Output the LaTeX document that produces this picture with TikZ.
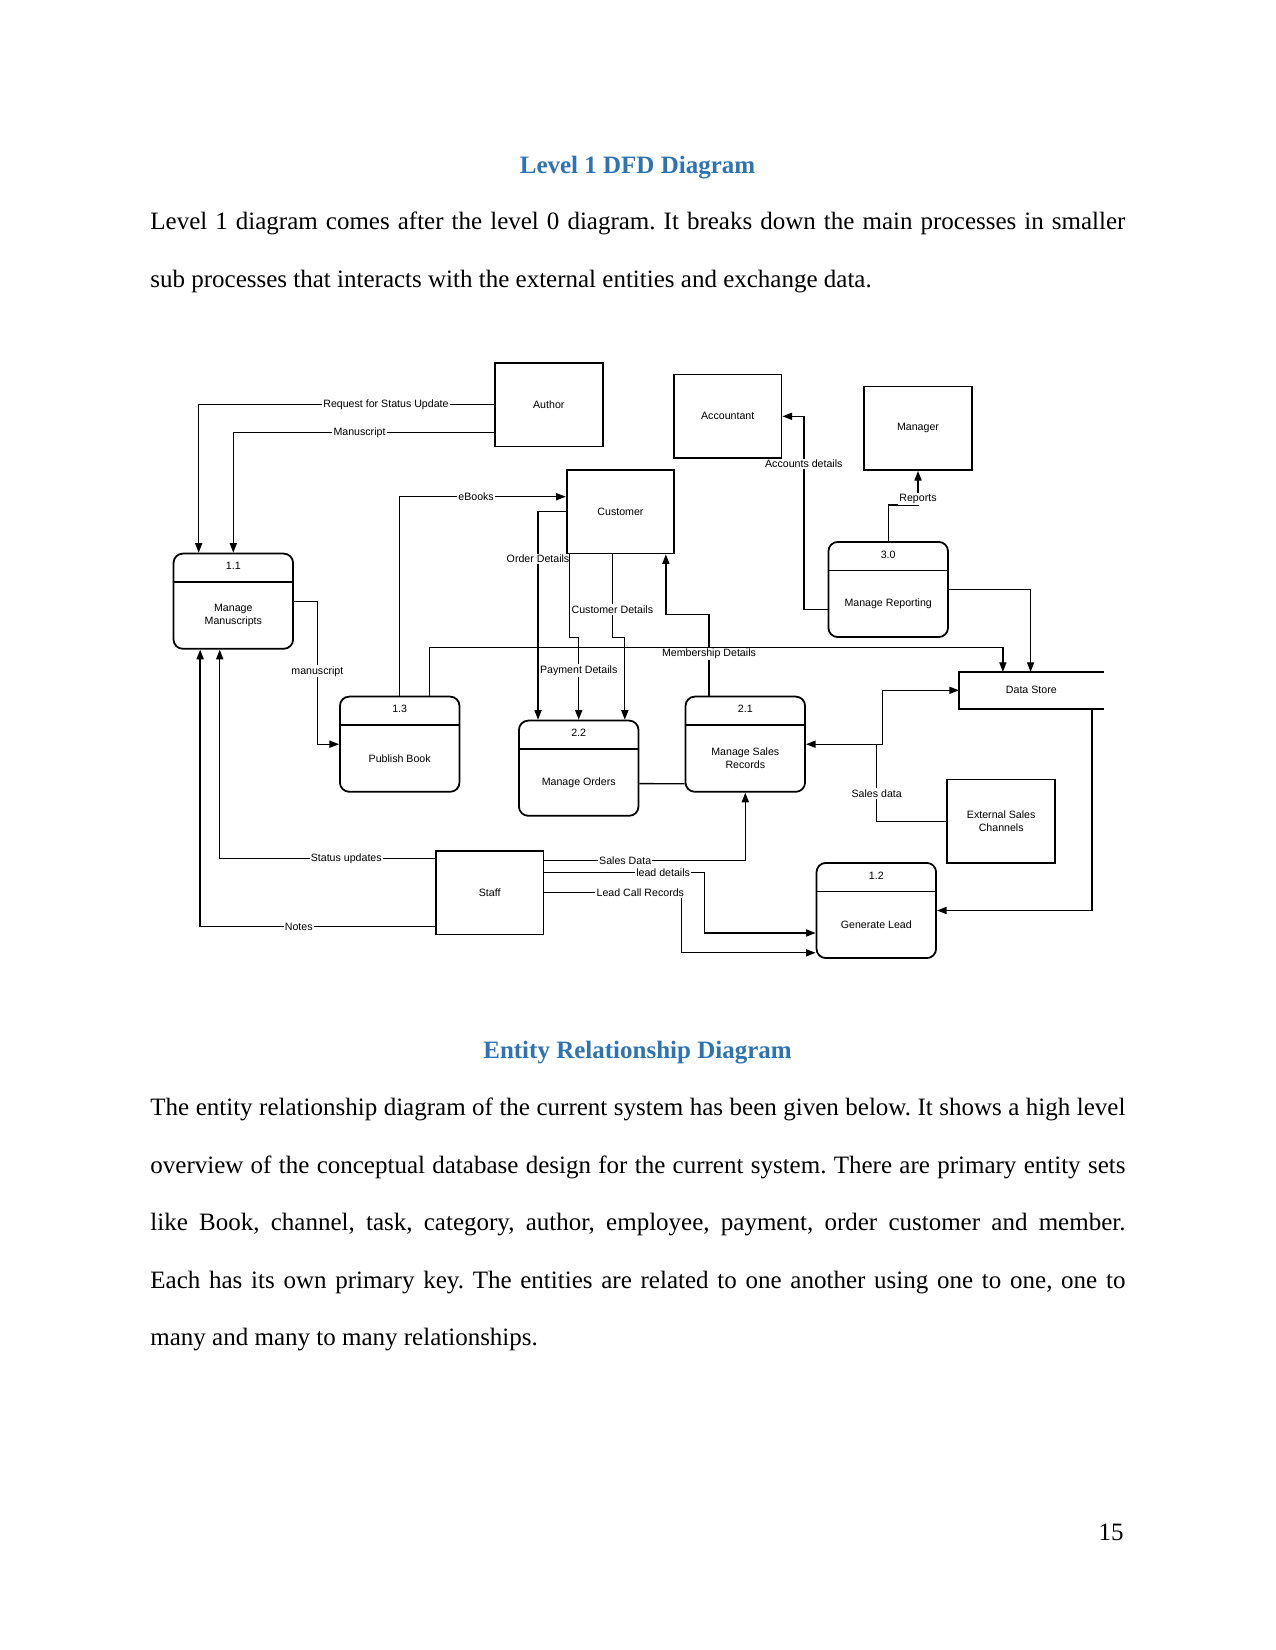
\documentclass[tikz,border=0pt]{standalone}
\usepackage{fontspec}
\setmainfont{Liberation Serif}
\newfontfamily\dfdfont{Liberation Sans}
\usetikzlibrary{arrows.meta, calc}
\definecolor{headblue}{RGB}{46,116,181}
\frenchspacing

\begin{document}
\begin{tikzpicture}[
    x=0.48pt, y=-0.48pt,
    entity/.style={
        draw=black, line width=0.85pt, minimum width=51.7pt, minimum height=40.1pt,
        font=\dfdfont\fontsize{5.1}{6.2}\selectfont, align=center, inner sep=1pt
    },
    proc/.style={
        draw=black, line width=0.85pt, rounded corners=4.5pt, minimum width=57.4pt,
        minimum height=45.7pt, inner sep=0pt,
        path picture={\draw[line width=0.85pt]
            ([yshift=-13.7pt]path picture bounding box.north west) --
            ([yshift=-13.7pt]path picture bounding box.north east);}
    },
    store/.style={
        minimum width=69.1pt, minimum height=17.3pt, inner sep=0pt,
        font=\dfdfont\fontsize{5.1}{6.2}\selectfont
    },
    num/.style={font=\dfdfont\fontsize{5.1}{6.2}\selectfont, inner sep=0pt},
    txt/.style={font=\dfdfont\fontsize{5.1}{6.2}\selectfont, align=center, inner sep=0pt},
    arrow/.style={
        -{Triangle[length=4.6pt, width=3.4pt]}, line width=0.65pt, black
    },
    biarrow/.style={
        {Triangle[length=4.6pt, width=3.4pt]}-{Triangle[length=4.6pt, width=3.4pt]},
        line width=0.65pt, black
    },
    flow/.style={line width=0.65pt, black},
    lbl/.style={font=\dfdfont\fontsize{5.1}{6.2}\selectfont, fill=white, inner sep=0.6pt},
    heading/.style={font=\bfseries\fontsize{12}{14}\selectfont, text=headblue, inner sep=0pt},
    body/.style={font=\fontsize{12}{14}\selectfont, inner sep=0pt}
]

\fill[white] (0,0) rectangle (1275,1650);
\useasboundingbox (0,0) rectangle (1275,1650);

% page text
\node[heading, anchor=base] (h1) at (637.5,174) {Level 1 DFD Diagram};
\node[body, anchor=base west] (p1a) at (150,230) {\makebox[468pt][s]{Level 1 diagram comes after the level 0 diagram. It breaks down the main processes in smaller}};
\node[body, anchor=base west] (p1b) at (150,287.5) {sub processes that interacts with the external entities and exchange data.};

% external entities
\node[entity] (author) at (548.8,404.7) {Author};
\node[entity] (acct) at (727.7,416.3) {Accountant};
\node[entity] (mgr) at (918,428.3) {Manager};
\node[entity] (cust) at (620.5,511.7) {Customer};
\node[entity] (ext) at (1001.2,821.2) {External Sales\\Channels};
\node[entity] (staff) at (489.7,892.7) {Staff};

% processes
\node[proc] (m11) at (233.3,601.2) {};
\node[num] (m11n) at ($(m11.north)+(0,13.5)$) {1.1};
\node[txt] (m11t) at ($(m11.center)+(0,14.3)$) {Manage\\Manuscripts};

\node[proc] (m13) at (399.7,744.2) {};
\node[num] (m13n) at ($(m13.north)+(0,13.5)$) {1.3};
\node[txt] (m13t) at ($(m13.center)+(0,14.3)$) {Publish Book};

\node[proc] (m22) at (578.7,768.2) {};
\node[num] (m22n) at ($(m22.north)+(0,13.5)$) {2.2};
\node[txt] (m22t) at ($(m22.center)+(0,14.3)$) {Manage Orders};

\node[proc] (m21) at (745.3,744.2) {};
\node[num] (m21n) at ($(m21.north)+(0,13.5)$) {2.1};
\node[txt] (m21t) at ($(m21.center)+(0,14.3)$) {Manage Sales\\Records};

\node[proc] (m30) at (888.2,589.5) {};
\node[num] (m30n) at ($(m30.north)+(0,13.5)$) {3.0};
\node[txt] (m30t) at ($(m30.center)+(0,14.3)$) {Manage Reporting};

\node[proc] (m12) at (876.3,910.5) {};
\node[num] (m12n) at ($(m12.north)+(0,13.5)$) {1.2};
\node[txt] (m12t) at ($(m12.center)+(0,14.3)$) {Generate Lead};

% data store, open on the right
\node[store] (ds) at (1031.3,690.3) {Data Store};
\draw[line width=0.85pt] (ds.north east) -- (ds.north west) -- (ds.south west) -- (ds.south east);

\coordinate (salesjoin) at (876.7,744.2);

% flows
\draw[arrow] (author.west) -| node[lbl, pos=0.183] {Request for Status Update} ([xshift=12.5pt]m11.north west);
\draw[arrow] ([yshift=-13.4pt]author.west) -| node[lbl, pos=0.258] {Manuscript} (m11.north);

\draw[arrow] (m13.north) |- node[lbl, pos=0.73] {eBooks} ([yshift=7.2pt]cust.west);
\draw[arrow] (cust.west) -| node[lbl, pos=0.613] {Order Details} ([xshift=9.6pt]m22.north west);
\draw[arrow] ([xshift=1.9pt]cust.south west) -- ++(0,83.4) -| node[lbl, pos=0.70] {Payment Details} (m22.north);
\draw[arrow] ([xshift=-3.9pt]cust.south) -- node[lbl, pos=0.66] {Customer Details} ++(0,83.4) -| ([xshift=-7pt]m22.north east);
\draw[arrow] ([xshift=11.7pt]m21.north west) -- node[lbl, pos=0.515] {Membership Details} ++(0,-81) -| ([xshift=-4.5pt]cust.south east);

\draw[arrow] (m11.east) -- ++(23.4,0) |- node[lbl, pos=0.245] {manuscript} (m13.west);
\draw[arrow] ([xshift=14.2pt]m13.north) -- ++(0,-48.4) -| ([xshift=21.1pt]ds.north west);

\draw[arrow] (m30.east) -| ([xshift=34.4pt]ds.north west);
\draw[arrow] ([yshift=-9.5pt]m30.west) -- ++(-23.7,0) |- node[lbl, pos=0.377] {Accounts details} (acct.east);
\draw[arrow] (m30.north) -- ++(0,-36) -| node[lbl, pos=0.594] {Reports} (mgr.south);

\draw[biarrow] (m21.east) -- ++(76.4,0) |- (ds.west);
\draw[flow] (ext.west) -| node[lbl, pos=0.68] {Sales data} (salesjoin);
\draw[flow] ([yshift=-7.4pt]m22.east) -- ([yshift=-19pt]m21.west);

\draw[arrow] ([yshift=16.5pt]staff.west) -| node[lbl, pos=0.206] {Status updates} ([xshift=22.6pt]m11.south west);
\draw[arrow] ([yshift=-16.3pt]staff.west) -| node[lbl, pos=0.29] {Notes} ([xshift=13.2pt]m11.south west);
\draw[arrow] ([yshift=15.4pt]staff.east) -| node[lbl, pos=0.201] {Sales Data} (m21.south);
\draw[arrow] ([yshift=9.6pt]staff.east) -- node[lbl, pos=0.742] {lead details} ++(160,0) |- ([yshift=-10.8pt]m12.west);
\draw[arrow] (staff.east) -- node[lbl, pos=0.70] {Lead Call Records} ++(137,0) |- ([yshift=-20.3pt]m12.west);
\draw[arrow] ([xshift=-5.6pt]ds.south east) |- (m12.east);

% page text below
\node[heading, anchor=base] (h2) at (637.5,1058) {Entity Relationship Diagram};
\node[body, anchor=base west] (p2a) at (150,1115.5) {\makebox[468pt][s]{The entity relationship diagram of the current system has been given below. It shows a high level}};
\node[body, anchor=base west] (p2b) at (150,1173) {\makebox[468pt][s]{overview of the conceptual database design for the current system. There are primary entity sets}};
\node[body, anchor=base west] (p2c) at (150,1230.5) {\makebox[468pt][s]{like Book, channel, task, category, author, employee, payment, order customer and member.}};
\node[body, anchor=base west] (p2d) at (150,1288) {\makebox[468pt][s]{Each has its own primary key. The entities are related to one another using one to one, one to}};
\node[body, anchor=base west] (p2e) at (150,1345.5) {many and many to many relationships.};
\node[body, anchor=base east] (pg) at (1124,1540.5) {15};

\end{tikzpicture}
\end{document}
